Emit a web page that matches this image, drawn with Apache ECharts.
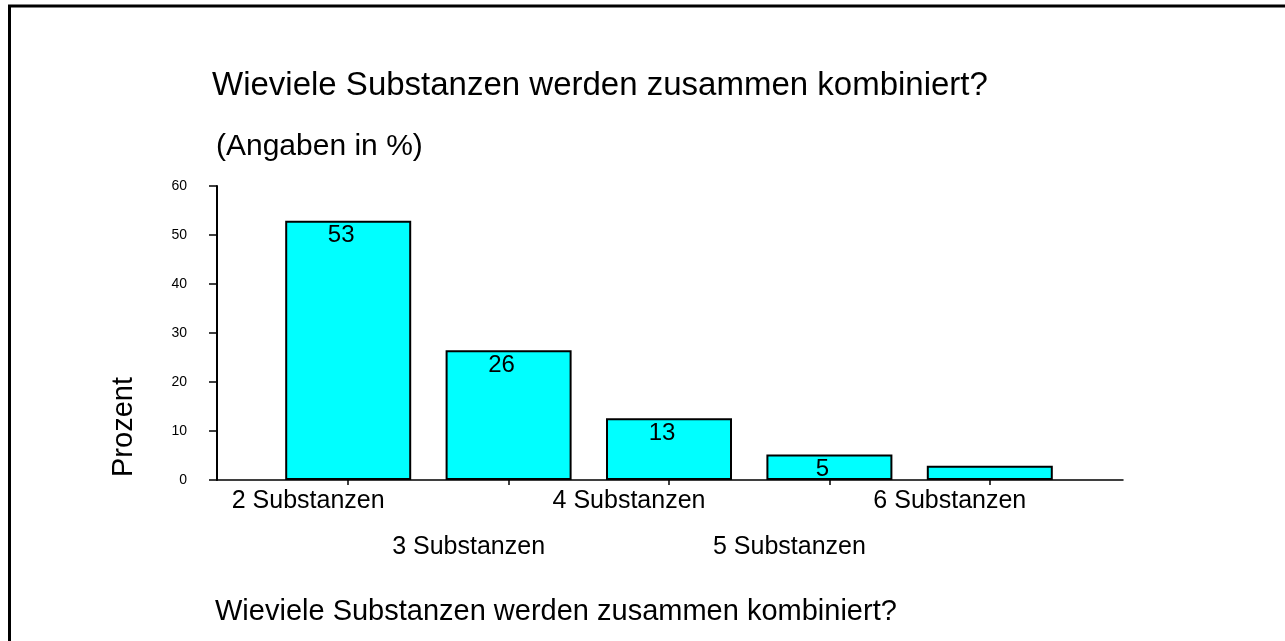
<!DOCTYPE html>
<html>
<head>
<meta charset="UTF-8">
<title>Substanzen</title>
<script src="https://cdn.jsdelivr.net/npm/echarts@6/dist/echarts.min.js"></script>
<style>
    *{ padding:0; margin:0; }
    #main{ width:1285px; height:641px; background:#fff; }
</style>
</head>
<body>
<div id="main"></div>
<script>
// Daten
var categories = ['2 Substanzen', '3 Substanzen', '4 Substanzen', '5 Substanzen', '6 Substanzen'];
var values = [52.9, 26.5, 12.6, 5.2, 2.9];
var valueLabels = ['53', '26', '13', '5', ''];
var yMin = 0, yMax = 60, yStep = 10;

var font = '"Liberation Sans", Arial, sans-serif';
var myChart = echarts.init(document.getElementById('main'));

var option = {
    animation: false,
    title: [
        {
            text: 'Wieviele Substanzen werden zusammen kombiniert?',
            left: 212, top: 69, padding: 0,
            textStyle: { fontFamily: font, fontSize: 33, fontWeight: 'normal', color: '#000' }
        },
        {
            text: '(Angaben in %)',
            left: 216, top: 132, padding: 0,
            textStyle: { fontFamily: font, fontSize: 30, fontWeight: 'normal', color: '#000' }
        },
        {
            text: 'Wieviele Substanzen werden zusammen kombiniert?',
            left: 215, top: 597, padding: 0,
            textStyle: { fontFamily: font, fontSize: 29, fontWeight: 'normal', color: '#000' }
        }
    ],
    graphic: [
        // Rahmen (läuft rechts und unten aus dem Bild)
        {
            type: 'rect', silent: true,
            shape: { x: 9.5, y: 6, width: 2000, height: 2000 },
            style: { fill: 'none', stroke: '#000', lineWidth: 3 }
        },
        {
            type: 'text', x: 124, y: 427, rotation: Math.PI / 2,
            style: {
                text: 'Prozent', fontFamily: font, fontSize: 29, fill: '#000',
                align: 'center', verticalAlign: 'middle'
            }
        }
    ],
    grid: [
        // Achsen-Grid (y-Achse + volle x-Linie)
        { left: 217, right: 162, top: 186, bottom: 161 },
        // Balken-Grid
        { left: 268, right: 215, top: 186, bottom: 161 }
    ],
    xAxis: [
        {
            type: 'value', gridIndex: 0, min: 0, max: 1,
            axisLine: { show: true, lineStyle: { color: '#000', width: 1.5 } },
            axisTick: { show: false }, axisLabel: { show: false }, splitLine: { show: false }
        },
        {
            type: 'category', gridIndex: 1, data: categories,
            axisLine: { show: false },
            axisTick: { show: true, alignWithLabel: true, length: 5, lineStyle: { color: '#000', width: 1.5 } },
            axisLabel: {
                interval: 0, margin: -2,
                fontFamily: font, fontSize: 25, color: '#000', lineHeight: 46,
                padding: [0, 80, 0, 0],
                formatter: function (v, i) { return i % 2 ? '\n' + v : v; }
            }
        }
    ],
    yAxis: [
        {
            type: 'value', gridIndex: 0, min: yMin, max: yMax, interval: yStep,
            axisLine: { show: true, lineStyle: { color: '#000', width: 2 } },
            axisTick: { show: true, length: 8, lineStyle: { color: '#000', width: 1.5 } },
            axisLabel: { margin: 30, fontFamily: font, fontSize: 14, color: '#000' },
            splitLine: { show: false }
        },
        {
            type: 'value', gridIndex: 1, min: yMin, max: yMax, interval: yStep, show: false
        }
    ],
    series: [{
        type: 'bar',
        xAxisIndex: 1, yAxisIndex: 1,
        data: values,
        barWidth: 126,
        itemStyle: { color: '#00FFFF', borderColor: '#000', borderWidth: 2 },
        label: {
            show: true, position: 'insideTop', distance: 3, offset: [-7, 0],
            fontFamily: font, fontSize: 24, color: '#000',
            formatter: function (p) { return valueLabels[p.dataIndex]; }
        }
    }]
};

myChart.setOption(option);
</script>
</body>
</html>
